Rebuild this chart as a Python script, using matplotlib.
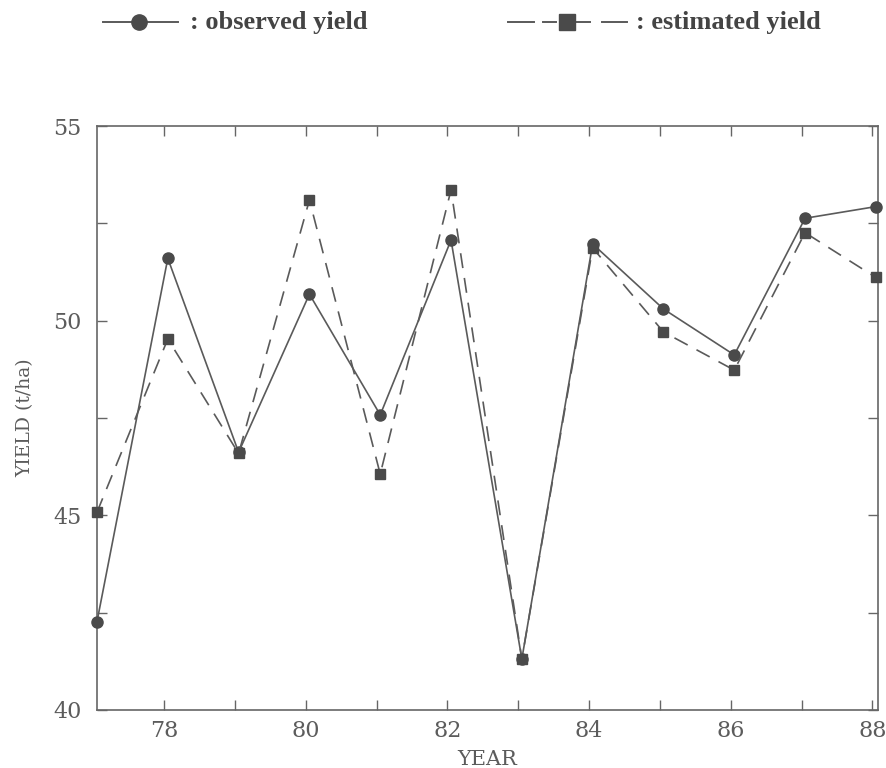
import matplotlib
matplotlib.use("Agg")
import matplotlib.pyplot as plt
from matplotlib.lines import Line2D
import numpy as np

plt.rcParams["font.family"] = ["DejaVu Serif", "serif"]

years = [77, 78, 79, 80, 81, 82, 83, 84, 85, 86, 87, 88]
observed = [42.27, 51.60, 46.62, 50.68, 47.58, 52.07, 41.31, 51.97, 50.30, 49.12, 52.63, 52.93]
estimated = [45.08, 49.53, 46.59, 53.10, 46.06, 53.36, 41.31, 51.87, 49.71, 48.73, 52.26, 51.11]
xtick_labels = ["78", "80", "82", "84", "86", "88"]
ytick_values = [40, 45, 50, 55]

W, H = 886, 768
fig = plt.figure(figsize=(W / 100, H / 100), dpi=100)
ax = fig.add_axes([97 / W, 1 - 710 / H, (878 - 97) / W, (710 - 126) / H])

gray = "#5a5a5a"
shift = -0.05  # tick marks sit slightly left of the data years in the original

ax.plot(years, observed, color=gray, lw=1.2, marker="o", ms=8,
        mfc="#4a4a4a", mec="#4a4a4a", clip_on=False, zorder=3)
ax.plot(years, estimated, color=gray, lw=1.2, marker="s", ms=7,
        mfc="#4a4a4a", mec="#4a4a4a", dashes=(9, 6), clip_on=False, zorder=3)

ax.set_xlim(77, 88.03)
ax.set_ylim(40, 55)

major_x = [int(l) + shift for l in xtick_labels]
ax.set_xticks(major_x)
ax.set_xticklabels(xtick_labels)
ax.set_xticks([y + shift for y in years[1:]], minor=True)
ax.set_yticks(ytick_values)
ax.set_yticklabels([str(v) for v in ytick_values])
ax.set_yticks(np.arange(40, 55.1, 2.5), minor=True)

for side in ax.spines.values():
    side.set_color("#666666")
    side.set_linewidth(1.2)

ax.tick_params(which="both", direction="in", top=True, right=True,
               length=7, width=1.0, color="#666666")
ax.tick_params(axis="x", which="major", pad=7)
ax.tick_params(axis="y", which="major", pad=11)
for lab in ax.get_xticklabels() + ax.get_yticklabels():
    lab.set_fontsize(16)
    lab.set_color("#5c5c5c")

ax.set_xlabel("YEAR", fontsize=15, color="#5c5c5c", labelpad=6)
ax.set_ylabel("YIELD (t/ha)", fontsize=13.5, color="#5c5c5c", labelpad=14)

# header legend
ly = 1 - 22 / H
tf = fig.transFigure
fig.add_artist(Line2D([103 / W, 178 / W], [ly, ly], transform=tf, color=gray, lw=1.4))
fig.add_artist(Line2D([139 / W], [ly], transform=tf, marker="o",
                      ms=11, mfc="#4a4a4a", mec="#4a4a4a", lw=0))
fig.text(190 / W, ly, ": observed yield", fontfamily="Liberation Serif",
         fontweight="bold", fontsize=19, color="#444444", va="center", ha="left")

for x0, x1 in [(508, 534), (543, 556), (576, 590), (602, 627)]:
    fig.add_artist(Line2D([x0 / W, x1 / W], [ly, ly], transform=tf, color=gray, lw=1.4))
fig.add_artist(Line2D([567 / W], [ly], transform=tf, marker="s",
                      ms=11, mfc="#4a4a4a", mec="#4a4a4a", lw=0))
fig.text(636 / W, ly, ": estimated yield", fontfamily="Liberation Serif",
         fontweight="bold", fontsize=19, color="#444444", va="center", ha="left")

fig.savefig("out.png", dpi=100)
